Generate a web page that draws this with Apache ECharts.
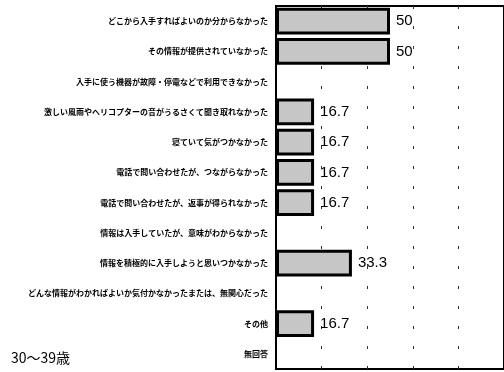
<!DOCTYPE html>
<html>
<head>
<meta charset="utf-8">
<script src="https://cdn.jsdelivr.net/npm/echarts@6/dist/echarts.min.js"></script>
<style>
    html, body { margin: 0; padding: 0; background: #fff; }
    #chart { width: 504px; height: 372px; }
</style>
</head>
<body>
<div id="chart"></div>
<script>
// 回答項目（上から順）
const categories = [
    'どこから入手すればよいのか分からなかった',
    'その情報が提供されていなかった',
    '入手に使う機器が故障・停電などで利用できなかった',
    '激しい風雨やヘリコプターの音がうるさくて聞き取れなかった',
    '寝ていて気がつかなかった',
    '電話で問い合わせたが、つながらなかった',
    '電話で問い合わせたが、返事が得られなかった',
    '情報は入手していたが、意味がわからなかった',
    '情報を積極的に入手しようと思いつかなかった',
    'どんな情報がわかればよいか気付かなかったまたは、無関心だった',
    'その他',
    '無回答'
];
// 割合（%）
const values = [50, 50, 0, 16.7, 16.7, 16.7, 16.7, 0, 33.3, 0, 16.7, 0];
const ageGroup = '30〜39歳';

// 0%の項目は枠線を描かない
const barData = values.map(function(v) {
    return v > 0 ? v : { value: v, itemStyle: { borderWidth: 0 } };
});

const chart = echarts.init(document.getElementById('chart'));
chart.setOption({
    animation: false,
    title: {
        text: ageGroup,
        left: 6,
        bottom: 2,
        textStyle: {
            fontFamily: 'Noto Sans CJK JP',
            fontSize: 14,
            fontWeight: 'normal',
            color: '#000'
        }
    },
    grid: {
        left: 276,
        right: -4,
        top: 6,
        bottom: 3,
        show: true,
        borderColor: '#000',
        borderWidth: 2
    },
    xAxis: {
        type: 'value',
        min: 0,
        max: 100,
        interval: 20,
        axisLine: { show: false },
        axisTick: { show: false },
        axisLabel: { show: false },
        splitLine: {
            show: true,
            lineStyle: {
                color: '#333',
                width: 1,
                type: [3, 17]
            }
        }
    },
    yAxis: {
        type: 'category',
        inverse: true,
        data: categories,
        axisLine: { show: true, lineStyle: { color: '#000', width: 2 } },
        axisTick: { show: false },
        axisLabel: {
            margin: 8,
            fontFamily: 'Noto Sans CJK JP',
            fontSize: 8,
            fontWeight: 'bold',
            color: '#000'
        }
    },
    series: [{
        type: 'bar',
        data: barData,
        barCategoryGap: '12%',
        itemStyle: {
            color: '#c6c6c6',
            borderColor: '#000',
            borderWidth: 3
        },
        label: {
            show: true,
            position: 'right',
            distance: 6,
            fontFamily: 'Liberation Sans',
            fontSize: 15,
            color: '#000',
            formatter: function(p) {
                return p.value > 0 ? String(p.value) : '';
            }
        }
    }]
});
</script>
</body>
</html>
